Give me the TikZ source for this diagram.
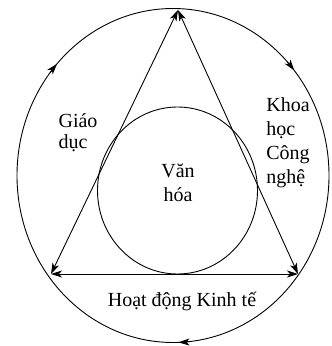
\documentclass[tikz,border=0pt]{standalone}
\usepackage{fontspec}
\setmainfont{Liberation Serif}
\usepackage{tikz}
\usetikzlibrary{arrows.meta, positioning, calc}
\tikzset{
  lbl/.style={font=\fontsize{20}{24}\selectfont, align=left, inner sep=0pt},
  ctrlbl/.style={font=\fontsize{20}{24}\selectfont, align=center, inner sep=0pt},
  line/.style={line width=0.9pt},
  arr/.style={-{Stealth[length=11pt, width=7pt, inset=3pt]}, line width=0.9pt},
  darr/.style={{Stealth[length=11pt, width=7pt, inset=3pt]}-{Stealth[length=11pt, width=7pt, inset=3pt]}, line width=0.9pt},
}

\begin{document}
\begin{tikzpicture}[x=1pt, y=1pt]
  \useasboundingbox (0,0) rectangle (332,346);

  % Centres and corners
  \coordinate (o) at (173,170.5);
  \coordinate (vh) at (177.5,155.5);
  \coordinate (top) at (178,336);
  \coordinate (bl) at (51,72);
  \coordinate (br) at (298,72);

  % Outer circle
  \draw[line] (o) ellipse [x radius=156, y radius=167];
  \foreach \s/\e in {142/138, 43/39, 276/272} {
    \draw[arr] ([shift={(\s:156 and 167)}]o)
      arc[start angle=\s, end angle=\e, x radius=156, y radius=167];
  }

  % Inner circle
  \draw[line] (vh) ellipse [x radius=80, y radius=83.5];

  % Triangle
  \foreach \a/\b in {top/bl, top/br, bl/br} {
    \draw[darr] (\a) -- (\b);
  }

  % Labels
  \node[ctrlbl] (vanhoa) at (178,163) {Văn\\hóa};
  \node[lbl, font=\fontsize{20}{21}\selectfont] (giaoduc) at (78,213) {Giáo\\dục};
  \node[lbl] (khcn) at (288,203) {Khoa\\học\\Công\\nghệ};
  \node[ctrlbl] (hdkt) at (182,45) {Hoạt động Kinh tế};
\end{tikzpicture}
\end{document}
